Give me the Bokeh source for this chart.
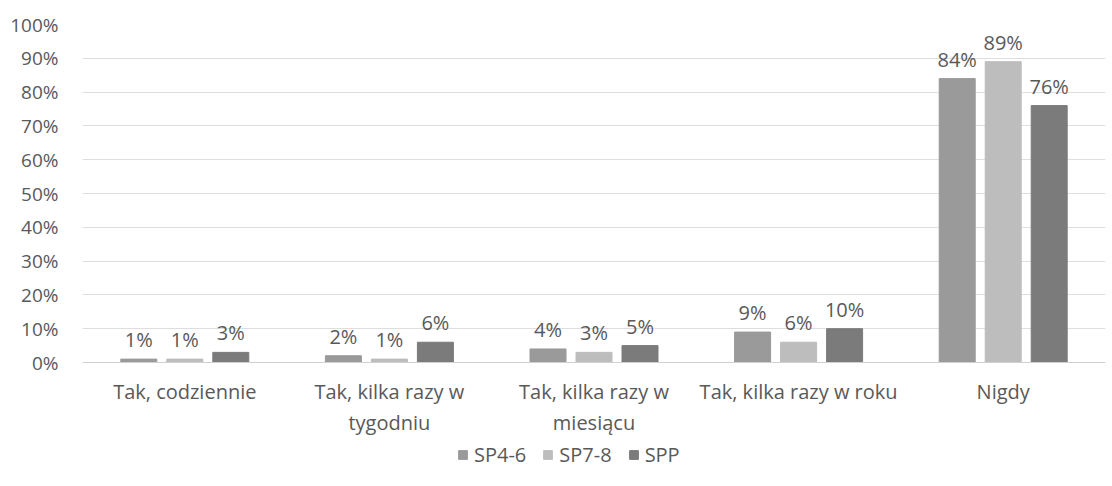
from bokeh.plotting import figure
from bokeh.layouts import column
from bokeh.models import (FactorRange, ColumnDataSource, LabelSet, Legend, LegendItem,
                          NumeralTickFormatter, FixedTicker)
from bokeh.core.properties import value
from bokeh.transform import dodge
from bokeh.embed import file_html
from bokeh.resources import INLINE

categories = ["Tak, codziennie", "Tak, kilka razy w\ntygodniu", "Tak, kilka razy w\nmiesiącu",
              "Tak, kilka razy w roku", "Nigdy"]
series_names = ["SP4-6", "SP7-8", "SPP"]
sp46 = [0.01, 0.02, 0.04, 0.09, 0.84]
sp78 = [0.01, 0.01, 0.03, 0.06, 0.89]
spp = [0.03, 0.06, 0.05, 0.10, 0.76]
y_ticks = [0.0, 0.1, 0.2, 0.3, 0.4, 0.5, 0.6, 0.7, 0.8, 0.9, 1.0]

colors = ["#9a9a9a", "#bdbdbd", "#7b7b7b"]
FONT = "Open Sans"
TXT = "#595959"

src = ColumnDataSource(dict(
    cat=categories,
    sp46=sp46, sp78=sp78, spp=spp,
    l46=[f"{round(v*100)}%" for v in sp46],
    l78=[f"{round(v*100)}%" for v in sp78],
    lpp=[f"{round(v*100)}%" for v in spp],
))

p = figure(x_range=FactorRange(*categories), y_range=(0, 1),
           width=1108, height=438, output_backend="svg", toolbar_location=None,
           min_border_left=82, min_border_right=3, min_border_top=24, min_border_bottom=72)

off = 46 / 204.6
w = 36 / 204.6
cols = ["sp46", "sp78", "spp"]
labs = ["l46", "l78", "lpp"]
for i, (c, lab, col) in enumerate(zip(cols, labs, colors)):
    o = (i - 1) * off
    p.vbar(x=dodge("cat", o, range=p.x_range), top=c, width=w, source=src,
           fill_color=col, line_color=col)
    ls = LabelSet(x=dodge("cat", o, range=p.x_range), y=c, text=lab, source=src,
                  text_align="center", text_baseline="bottom", y_offset=6,
                  text_font=value(FONT), text_font_size="20px", text_color=TXT)
    p.add_layout(ls)

p.yaxis.ticker = FixedTicker(ticks=y_ticks)
p.yaxis.formatter = NumeralTickFormatter(format="0%")
p.yaxis.axis_line_color = None
p.yaxis.major_tick_line_color = None
p.yaxis.minor_tick_line_color = None
p.yaxis.major_label_text_font = FONT
p.yaxis.major_label_text_font_size = "19px"
p.yaxis.major_label_text_color = TXT
p.yaxis.major_label_standoff = 18

p.xaxis.axis_line_color = "#d0d0d0"
p.xaxis.major_tick_line_color = None
p.xaxis.minor_tick_line_color = None
p.xaxis.major_label_text_font = FONT
p.xaxis.major_label_text_font_size = "20px"
p.xaxis.major_label_text_color = TXT
p.xaxis.major_label_standoff = 9
p.xaxis.major_label_text_line_height = 1.15

p.xgrid.grid_line_color = None
p.ygrid.grid_line_color = "#dedede"
p.ygrid.ticker = FixedTicker(ticks=y_ticks)
p.outline_line_color = None
p.x_range.range_padding = 0

# legend strip below the chart
lf = figure(width=1108, height=48, output_backend="svg", toolbar_location=None,
            x_range=(0, 1), y_range=(0, 1), min_border=0)
lf.axis.visible = False
lf.grid.visible = False
lf.outline_line_color = None
items = []
for n, col in zip(series_names, colors):
    r = lf.vbar(x=[-5], bottom=[-5], top=[-4], width=1, fill_color=col, line_color=col)
    items.append(LegendItem(label=n, renderers=[r]))
legend = Legend(items=items, orientation="horizontal", location=(375, 18),
                label_text_font=FONT, label_text_font_size="20px", label_text_color=TXT,
                glyph_width=11, glyph_height=11, spacing=16, label_standoff=6,
                border_line_color=None, background_fill_alpha=0, margin=0, padding=0)
lf.add_layout(legend)

layout = column(p, lf, spacing=0)
open("out.html", "w").write(file_html(layout, INLINE))
